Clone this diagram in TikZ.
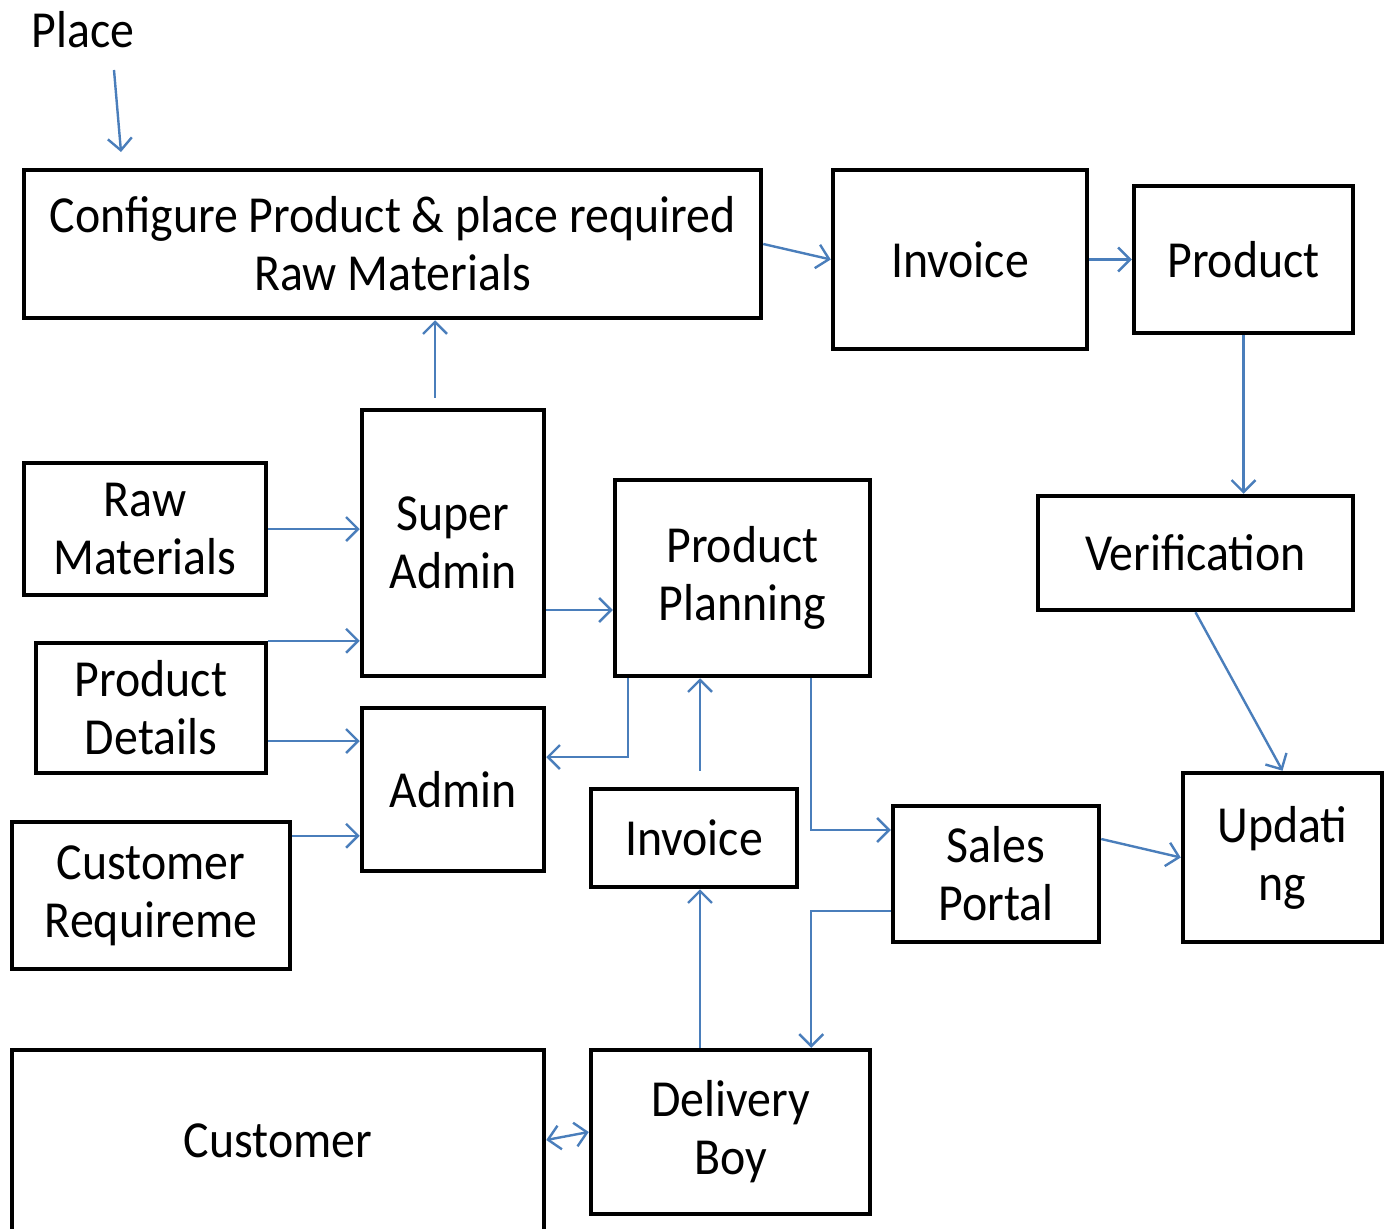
\documentclass[tikz,border=0pt]{standalone}
\usepackage{fontspec}
\setmainfont{Carlito}[FakeStretch=0.92]
\usetikzlibrary{arrows.meta}
\definecolor{arrblue}{HTML}{4A7EBB}
\tikzset{
  box/.style={draw=black, line width=4.5pt, align=center, inner sep=0pt,
    font=\fontsize{52}{58}\selectfont},
  arr/.style={draw=arrblue, line width=2.4pt,
    -{Straight Barb[length=12pt,width=24pt,line width=2.4pt]}},
  dblarr/.style={draw=arrblue, line width=2.4pt,
    {Straight Barb[length=12pt,width=24pt,line width=2.4pt]}-{Straight Barb[length=12pt,width=24pt,line width=2.4pt]}},
  lbl/.style={inner sep=0pt, font=\fontsize{52}{58}\selectfont}
}
\begin{document}
\begin{tikzpicture}[x=1pt,y=-1pt]
\useasboundingbox (0,0) rectangle (1388,1228);
% nodes
\node[lbl] (place) at (83,30) {Place};
\node[box, minimum width=737pt, minimum height=148pt] (conf) at (392.5,244) {Configure Product \& place required\\Raw Materials};
\node[box, minimum width=254pt, minimum height=179pt] (inv1) at (960,259.5) {Invoice};
\node[box, minimum width=219pt, minimum height=147pt] (prod) at (1243.5,259.5) {Product};
\node[box, minimum width=315pt, minimum height=114pt] (ver) at (1195.5,553) {Verification};
\node[box, minimum width=199pt, minimum height=169pt] (upd) at (1282.5,857.5) {Updati\\ng};
\node[box, minimum width=206pt, minimum height=136pt] (sales) at (996,874) {Sales\\Portal};
\node[box, minimum width=255pt, minimum height=196pt] (pp) at (742.5,578) {Product\\Planning};
\node[box, minimum width=182pt, minimum height=266pt] (sa) at (453,543) {Super\\Admin};
\node[box, minimum width=242pt, minimum height=132pt] (raw) at (145,529) {Raw\\Materials};
\node[box, minimum width=230pt, minimum height=130pt] (pd) at (151,708) {Product\\Details};
\node[box, minimum width=278pt, minimum height=147pt] (cr) at (151,895.5) {Customer\\Requireme};
\node[box, minimum width=182pt, minimum height=163pt] (adm) at (453,789.5) {Admin};
\node[box, minimum width=206pt, minimum height=98pt] (inv2) at (694,838) {Invoice};
\node[box, minimum width=279pt, minimum height=164pt] (db) at (730.5,1132) {Delivery\\Boy};
\node[box, minimum width=532pt, minimum height=182pt] (cust) at (278,1141) {Customer};
% connectors
\coordinate (pa) at (114,70);
\coordinate (pb) at (121,152);
\draw[arr] (pa) -- (pb);
\draw[arr] (conf.east) -- (inv1.west);
\draw[arr] (inv1.east) -- (prod.west);
\draw[arr] (prod.south) -- (prod.south |- ver.north);
\draw[arr] (ver.south) -- (upd.north);
\draw[arr] ([yshift=35pt]sales.east) -- (upd.west);
\draw[arr] ([xshift=-18pt,yshift=10pt]sa.north) -- ([xshift=-18pt]sa.north |- conf.south);
\draw[arr] (raw.east) -- (raw.east -| sa.west);
\draw[arr] (pd.north east) -- (pd.north east -| sa.west);
\draw[arr] ([yshift=-33pt]pd.east) -- ([yshift=-33pt]pd.east -| adm.west);
\draw[arr] ([yshift=-16pt]cr.north east) -- ([yshift=-16pt]cr.north east -| adm.west);
\draw[arr] ([yshift=-67pt]sa.east) -- ([yshift=-67pt]sa.east -| pp.west);
\draw[arr] ([xshift=15pt]pp.south west) |- ([yshift=32.5pt]adm.east);
\draw[arr] ([xshift=6pt,yshift=16pt]inv2.north) -- ([xshift=6pt]inv2.north |- pp.south);
\draw[arr] ([xshift=-61pt]pp.south east) |- ([yshift=44pt]sales.west);
\draw[arr] ([yshift=-37pt]sales.west) -| ([xshift=-61pt]db.north east);
\draw[arr] ([xshift=-30.5pt]db.north) -- ([xshift=-30.5pt]db.north |- inv2.south);
\draw[dblarr] ([yshift=1pt]cust.east) -- (db.west);
\end{tikzpicture}
\end{document}
